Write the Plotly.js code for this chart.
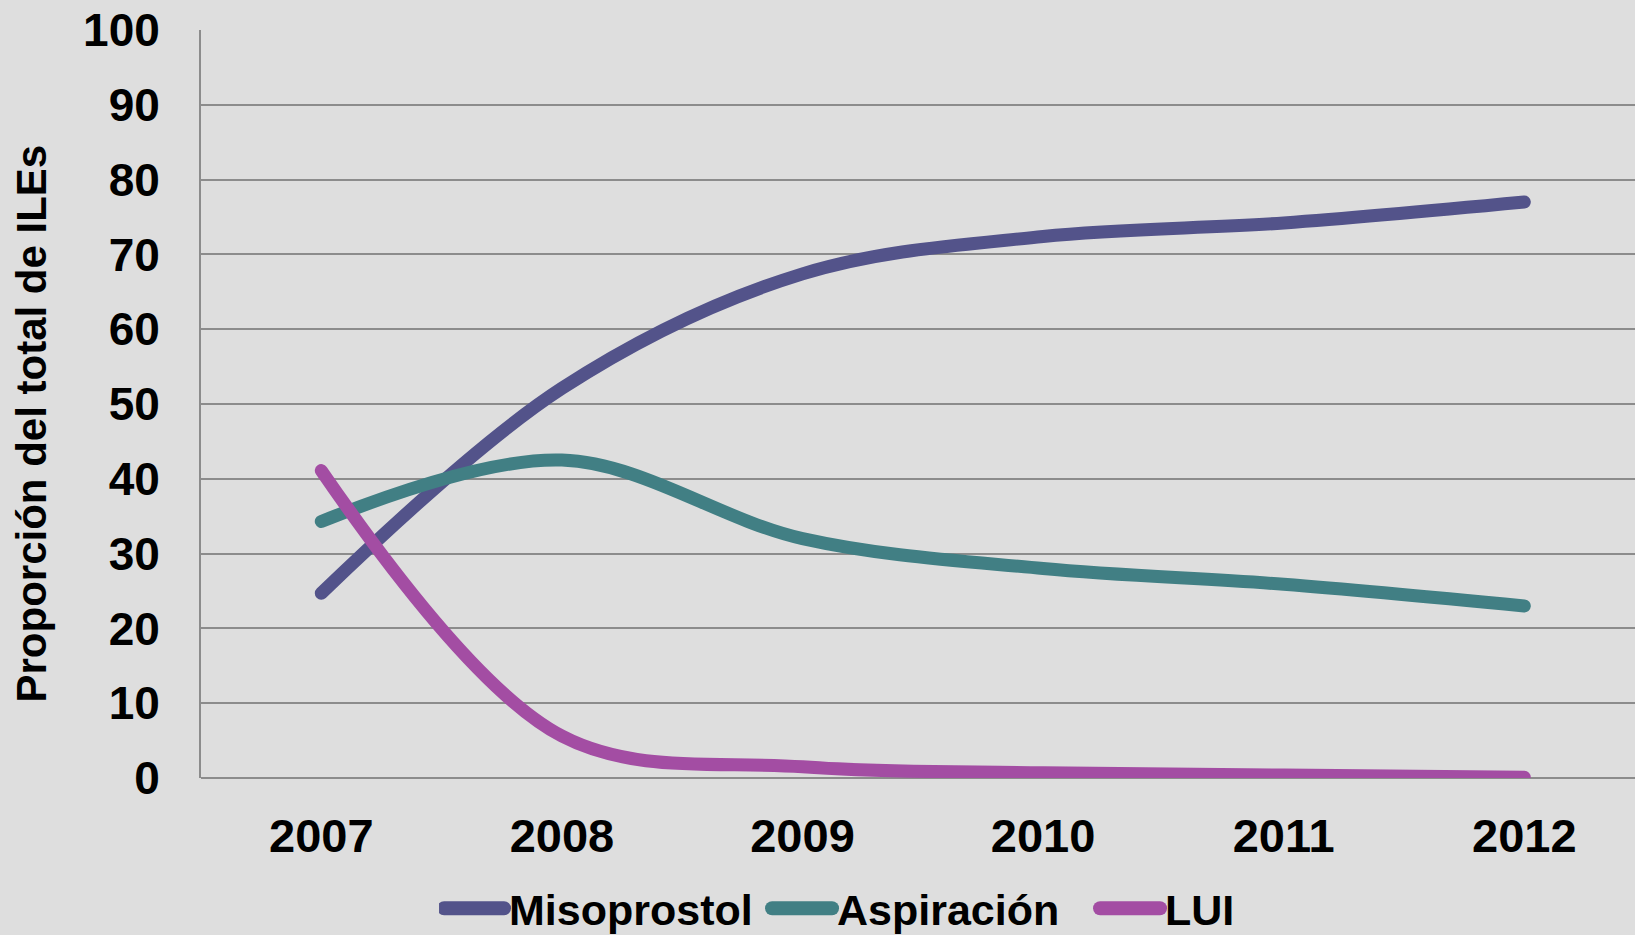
<!DOCTYPE html>
<html>
<head>
<meta charset="utf-8">
<script src="https://cdn.plot.ly/plotly-3.0.1.min.js"></script>
<style>
html,body{margin:0;padding:0;background:#dedede;}
.scatterlayer .js-line{stroke-linecap:round;stroke-linejoin:round;}
.legend .legendlines path{stroke-width:14px !important;stroke-linecap:round;}
</style>
</head>
<body>
<div id="chart" style="width:1635px;height:935px;"></div>
<script>
const years = ["2007", "2008", "2009", "2010", "2011", "2012"];
const misoprostol = [24.7, 52.1, 67.4, 72.4, 74.2, 77.0];
const aspiracion = [34.3, 42.5, 32.0, 28.0, 25.9, 23.0];
const lui = [41.1, 5.6, 1.5, 0.7, 0.4, 0.1];
const yTicks = [0, 10, 20, 30, 40, 50, 60, 70, 80, 90, 100];
const yTitle = 'Proporción del total de ILEs';

const bold = '"Liberation Sans", Arial, sans-serif';

function series(name, vals, color) {
  return {
    type: 'scatter', mode: 'lines', name: name, x: years, y: vals,
    line: {color: color, width: 13, shape: 'spline', smoothing: 1},
    hoverinfo: 'x+y+name'
  };
}

const data = [
  series('Misoprostol', misoprostol, '#53538a'),
  series('Aspiración', aspiracion, '#417f84'),
  series('LUI', lui, '#a34da3')
];

const layout = {
  width: 1635, height: 935,
  margin: {l: 201, r: 0, t: 29.5, b: 157, pad: 0, autoexpand: false},
  paper_bgcolor: '#dedede', plot_bgcolor: '#dedede',
  showlegend: true,
  legend: {
    orientation: 'h', x: 0.166, xanchor: 'left', y: -0.128, yanchor: 'top',
    font: {family: bold, size: 43, color: '#000', weight: 'bold'},
    bgcolor: 'rgba(0,0,0,0)', itemwidth: 60,
    entrywidth: 253, entrywidthmode: 'pixels'
  },
  xaxis: {
    type: 'category', range: [-0.5, 5.46],
    showgrid: false, zeroline: false, showline: false,
    ticks: '', ticklabelstandoff: 26,
    tickfont: {family: bold, size: 47, color: '#000', weight: 'bold'},
    fixedrange: true
  },
  yaxis: {
    range: [0, 100], tickvals: yTicks, ticktext: yTicks.map(String),
    showgrid: true, gridcolor: '#8c8c8c', gridwidth: 2,
    zeroline: true, zerolinecolor: '#8c8c8c', zerolinewidth: 2,
    showline: true, linecolor: '#8c8c8c', linewidth: 2,
    ticks: '', ticklabelstandoff: 30,
    tickfont: {family: bold, size: 46, color: '#000', weight: 'bold'},
    fixedrange: true
  },
  annotations: [{
    text: yTitle, textangle: -90, showarrow: false,
    xref: 'paper', yref: 'paper', x: -0.1185, y: 0.474,
    xanchor: 'center', yanchor: 'middle',
    font: {family: bold, size: 42, color: '#000', weight: 'bold'}
  }]
};

Plotly.newPlot('chart', data, layout, {displayModeBar: false, responsive: false});
</script>
</body>
</html>
